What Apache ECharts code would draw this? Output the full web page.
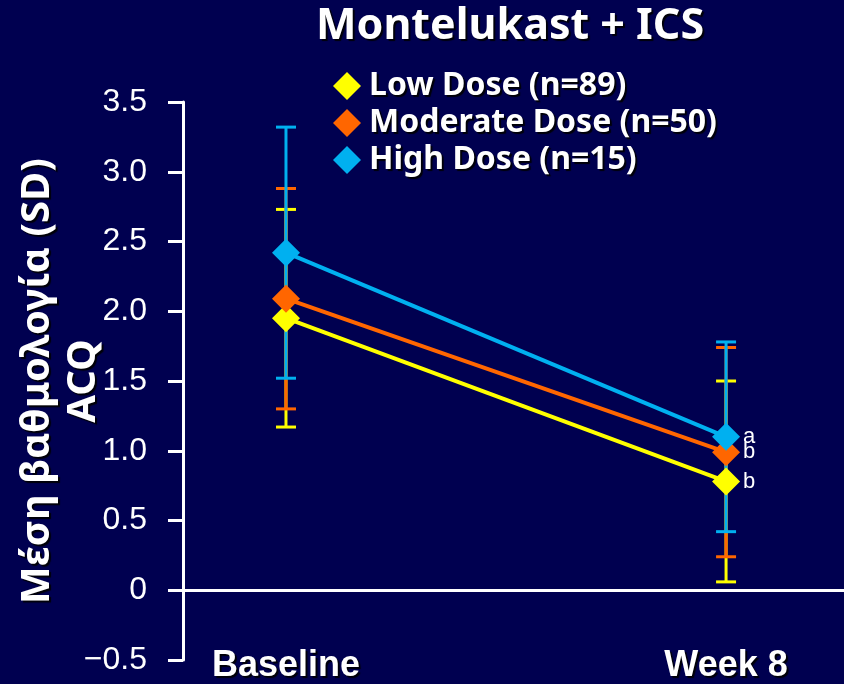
<!DOCTYPE html>
<html><head><meta charset="utf-8">
<script src="https://cdn.jsdelivr.net/npm/echarts@6/dist/echarts.min.js"></script>
<style>html,body{margin:0;padding:0;background:#000050;}#c{width:844px;height:684px;}</style>
</head><body><div id="c"></div>
<script>
const timepoints = ['Baseline', 'Week 8'];
const timeX = [0, 1];
const seriesNames = ['Low Dose (n=89)', 'Moderate Dose (n=50)', 'High Dose (n=15)'];
const lowMean = [1.95, 0.78];
const lowSD = [0.78, 0.72];
const modMean = [2.09, 0.99];
const modSD = [0.79, 0.75];
const highMean = [2.42, 1.10];
const highSD = [0.90, 0.68];
const week8Letters = ['b', 'b', 'a'];
const titleText = 'Montelukast + ICS';
const yName = 'Μέση βαθμολογία (SD)\nACQ';

const colors = ['#FFFF00', '#FF6600', '#00B0F0'];
const means = [lowMean, modMean, highMean];
const sds = [lowSD, modSD, highSD];
const comic = '"Comic Sans MS", "Noto Sans", sans-serif';
const shadow = { textShadowColor: 'rgba(0,0,0,0.9)', textShadowOffsetX: 2, textShadowOffsetY: 2, textShadowBlur: 1 };

function errRender(color) {
  return function (params, api) {
    const x = api.value(0), lo = api.value(1), hi = api.value(2);
    const pHi = api.coord([x, hi]), pLo = api.coord([x, lo]);
    const hw = 10;
    const style = { stroke: color, lineWidth: 3 };
    return { type: 'group', children: [
      { type: 'line', shape: { x1: pHi[0], y1: pHi[1], x2: pLo[0], y2: pLo[1] }, style: style },
      { type: 'line', shape: { x1: pHi[0] - hw, y1: pHi[1], x2: pHi[0] + hw, y2: pHi[1] }, style: style },
      { type: 'line', shape: { x1: pLo[0] - hw, y1: pLo[1], x2: pLo[0] + hw, y2: pLo[1] }, style: style }
    ]};
  };
}

const series = [];
means.forEach(function (m, i) {
  const s = {
    type: 'custom',
    name: 'err' + i,
    renderItem: errRender(colors[i]),
    data: timeX.map(function (x, j) { return [x, m[j] - sds[i][j], m[j] + sds[i][j]]; }),
    z: 2, silent: true
  };
  if (i === 0) {
    s.markLine = { silent: true, symbol: 'none', label: { show: false },
      lineStyle: { color: '#ffffff', width: 3, type: 'solid' }, data: [{ yAxis: 0 }], z: 1 };
  }
  series.push(s);
});
means.forEach(function (m, i) {
  series.push({
    type: 'line',
    name: seriesNames[i],
    symbol: 'diamond',
    symbolSize: 28,
    z: 3 + i,
    lineStyle: { color: colors[i], width: 4 },
    itemStyle: { color: colors[i] },
    data: timeX.map(function (x, j) {
      const item = { value: [x, m[j]] };
      if (j === 1) item.label = { show: true, position: 'right', distance: 3, formatter: week8Letters[i],
        color: '#ffffff', fontSize: 22, fontFamily: 'Liberation Sans, Arial, sans-serif' };
      return item;
    })
  });
});

const chart = echarts.init(document.getElementById('c'));
chart.setOption({
  backgroundColor: '#000050',
  animation: false,
  title: { text: titleText, left: 311, top: 0,
    textStyle: Object.assign({ color: '#ffffff', fontSize: 43, fontWeight: 'bold', fontFamily: comic }, shadow) },
  legend: { orient: 'vertical', left: 328, top: 65, itemWidth: 28, itemHeight: 28, itemGap: 5, icon: 'diamond',
    data: seriesNames,
    textStyle: Object.assign({ color: '#ffffff', fontSize: 32, fontWeight: 'bold', fontFamily: comic, padding: [0, 0, 0, 3] }, shadow) },
  grid: { left: 183, right: 0, top: 102, bottom: 24, outerBoundsMode: 'none', containLabel: false },
  xAxis: { type: 'value', min: -0.234, max: 1.268,
    axisLine: { show: false }, axisTick: { show: false }, splitLine: { show: false },
    axisLabel: Object.assign({ customValues: timeX, formatter: function (v) { return timepoints[Math.round(v)]; },
      color: '#ffffff', fontSize: 36, fontWeight: 'bold', fontFamily: 'Liberation Sans, Arial, sans-serif',
      verticalAlign: 'middle', margin: 6 }, shadow) },
  yAxis: { type: 'value', min: -0.5, max: 3.5, interval: 0.5,
    name: yName, nameLocation: 'middle', nameRotate: 90, nameGap: 76, nameMoveOverlap: false,
    nameTextStyle: Object.assign({ color: '#ffffff', fontSize: 40, fontWeight: 'bold', fontFamily: comic, lineHeight: 46 }, shadow),
    axisLine: { show: true, onZero: false, lineStyle: { color: '#ffffff', width: 3 } },
    axisTick: { show: true, length: 15, lineStyle: { color: '#ffffff', width: 3 } },
    splitLine: { show: false },
    axisLabel: { color: '#ffffff', fontSize: 32, fontFamily: 'Liberation Sans, Arial, sans-serif', margin: 36,
      formatter: function (v) { if (Math.abs(v) < 1e-9) return '0'; return v < 0 ? '\u2212' + Math.abs(v).toFixed(1) : v.toFixed(1); } } },
  series: series
});
</script></body></html>
